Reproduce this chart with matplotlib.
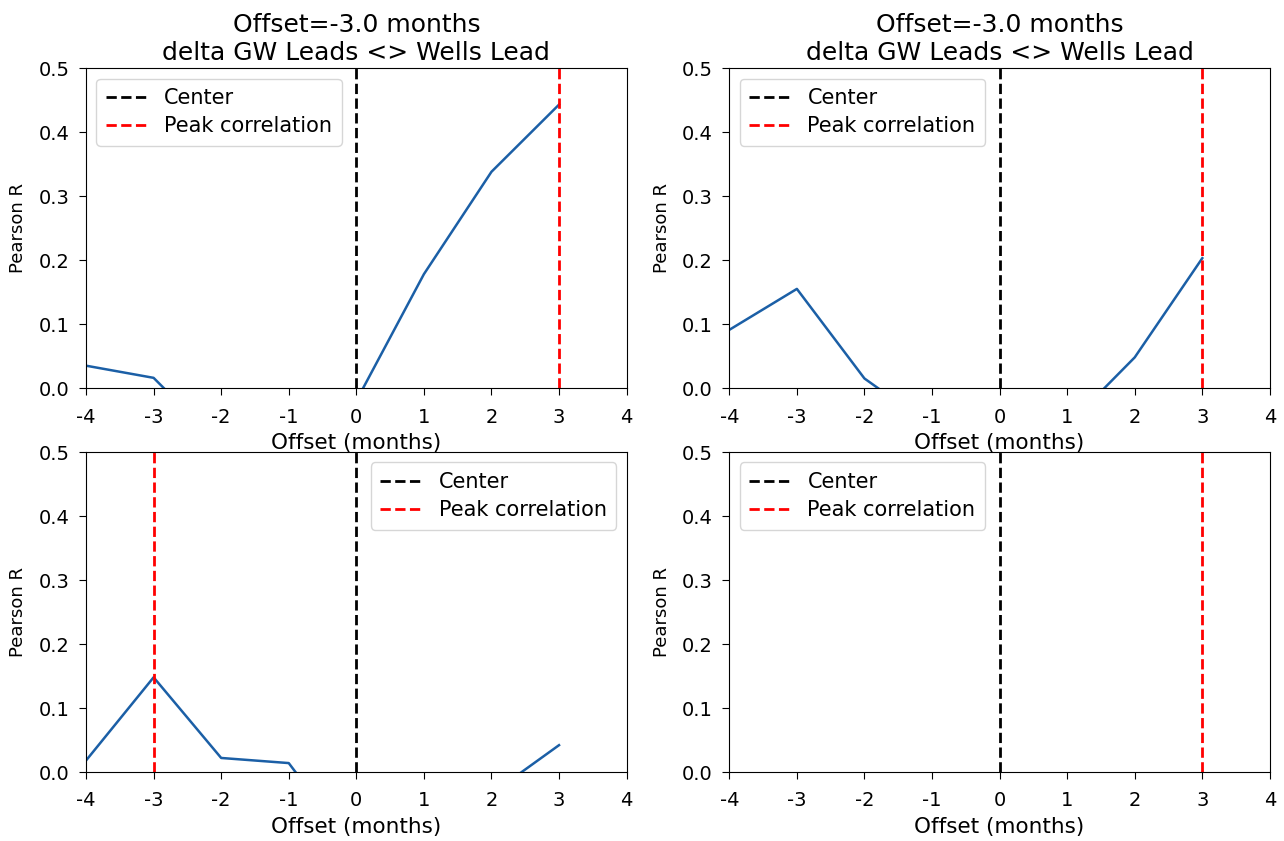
import matplotlib
matplotlib.use("Agg")
import matplotlib.pyplot as plt

plt.rcParams["axes.unicode_minus"] = False

offsets = [-4, -3, -2, -1, 0, 1, 2, 3]

# Pearson R per lag for each panel (negatives fall below the axis)
r_top_left = [0.035, 0.016, -0.09, -0.06, -0.02, 0.178, 0.338, 0.443]
r_top_right = [0.091, 0.155, 0.015, -0.06, -0.11, -0.059, 0.048, 0.203]
r_bottom_left = [0.018, 0.148, 0.022, 0.014, -0.126, -0.08, -0.034, 0.042]
r_bottom_right = [-0.05, -0.07, -0.09, -0.11, -0.1, -0.07, -0.04, -0.02]

peaks = [3, 3, -3, 3]
title = "Offset=-3.0 months\ndelta GW Leads <> Wells Lead"
legend_locs = ["upper left", "upper left", "upper right", "upper left"]

fig, axes = plt.subplots(2, 2, figsize=(12.84, 8.41), dpi=100)
fig.subplots_adjust(left=0.067, right=0.989, top=0.919, bottom=0.082,
                    wspace=0.19, hspace=0.2)

series = [r_top_left, r_top_right, r_bottom_left, r_bottom_right]
for i, ax in enumerate(axes.flat):
    ax.plot(offsets, series[i], color="#1b5fa6", linewidth=1.8)
    ax.axvline(0, color="black", linestyle="--", linewidth=2, label="Center")
    ax.axvline(peaks[i], color="red", linestyle="--", linewidth=2,
               label="Peak correlation")
    ax.set_xlim(-4, 4)
    ax.set_ylim(0, 0.5)
    ax.set_xticks(range(-4, 5))
    ax.set_yticks([0, 0.1, 0.2, 0.3, 0.4, 0.5])
    ax.tick_params(labelsize=14, length=5, pad=7)
    ax.tick_params(axis="x", pad=9)
    ax.set_xlabel("Offset (months)", fontsize=15.5, labelpad=5)
    ax.set_ylabel("Pearson R", fontsize=13, labelpad=8)
    ax.legend(loc=legend_locs[i], fontsize=15, borderpad=0.45,
              labelspacing=0.4)
    if i < 2:
        ax.set_title(title, fontsize=18)

fig.savefig("out.png")
